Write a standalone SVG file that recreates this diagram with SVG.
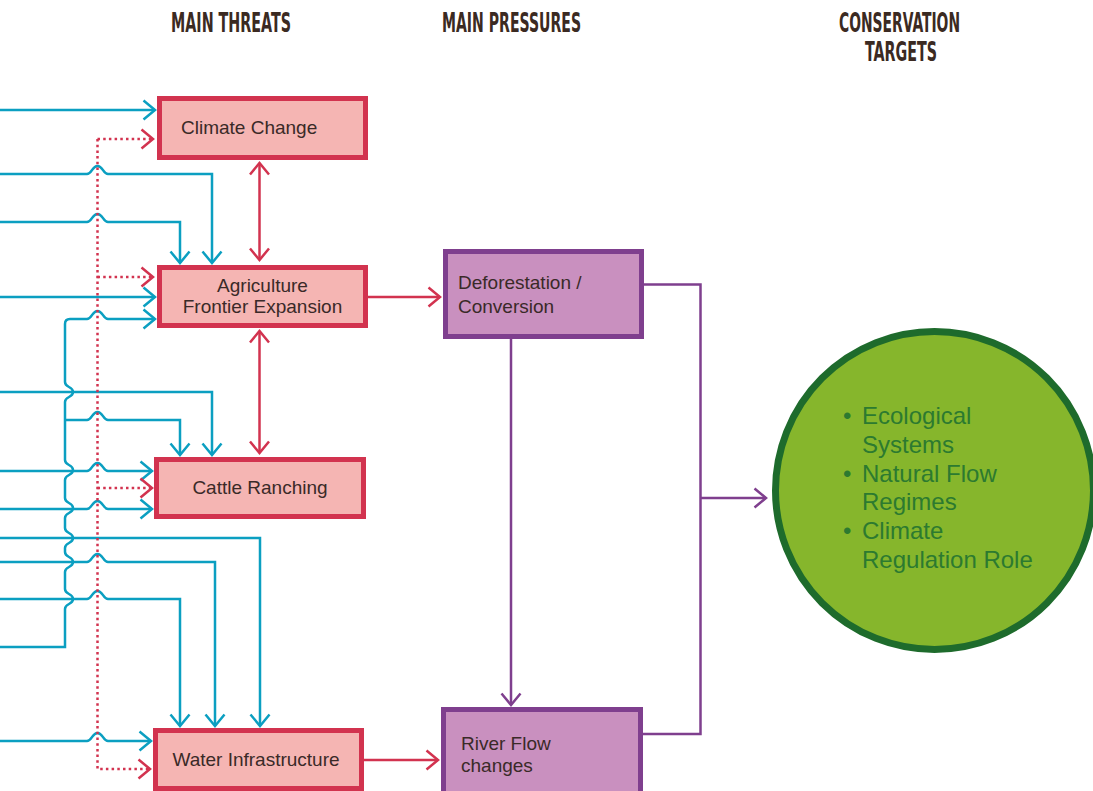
<svg xmlns="http://www.w3.org/2000/svg" width="1093" height="791" viewBox="0 0 1093 791">
<style>
.hdr{font-family:"DejaVu Sans Condensed","Liberation Sans Narrow","DejaVu Sans",sans-serif;font-weight:bold;font-size:26px;fill:#3b2a22}
.threat rect{fill:#f5b5b3;stroke:#d2334f;stroke-width:5}
.press rect{fill:#c990bf;stroke:#7f3f8e;stroke-width:5}
.lbl{font-family:"Liberation Sans",Arial,sans-serif;font-size:19px;fill:#3a2a28}
.tgt{font-family:"Liberation Sans",Arial,sans-serif;font-size:24px;fill:#2c7a30}
.blue{fill:none;stroke:#0b9fc1;stroke-width:2.5}
.red{fill:none;stroke:#d2334f;stroke-width:2.5}
.dot{fill:none;stroke:#d2334f;stroke-width:2.5;stroke-dasharray:2.5 3.2}
.purple{fill:none;stroke:#7f3f8e;stroke-width:2.5}
</style>
<defs>
<marker id="ab" markerUnits="userSpaceOnUse" markerWidth="16" markerHeight="24" refX="13" refY="11" orient="auto-start-reverse"><path d="M1.5,1.5 L13,11 L1.5,20.5" fill="none" stroke="#0b9fc1" stroke-width="2.5"/></marker>
<marker id="ar" markerUnits="userSpaceOnUse" markerWidth="16" markerHeight="24" refX="13" refY="11" orient="auto-start-reverse"><path d="M1.5,1.5 L13,11 L1.5,20.5" fill="none" stroke="#d2334f" stroke-width="2.5"/></marker>
<marker id="ap" markerUnits="userSpaceOnUse" markerWidth="16" markerHeight="24" refX="13" refY="11" orient="auto-start-reverse"><path d="M1.5,1.5 L13,11 L1.5,20.5" fill="none" stroke="#7f3f8e" stroke-width="2.5"/></marker>
</defs>
<rect width="1093" height="791" fill="#ffffff"/>
<g id="headers">
<text class="hdr" x="171" y="32" textLength="120" lengthAdjust="spacingAndGlyphs">MAIN THREATS</text>
<text class="hdr" x="442" y="32" textLength="139" lengthAdjust="spacingAndGlyphs">MAIN PRESSURES</text>
<text class="hdr" x="839" y="32" textLength="121" lengthAdjust="spacingAndGlyphs">CONSERVATION</text>
<text class="hdr" x="865" y="61" textLength="72" lengthAdjust="spacingAndGlyphs">TARGETS</text>
</g>
<g id="connectors">
<path class="blue" marker-end="url(#ab)" d="M0,110 H155"/>
<path class="blue" marker-end="url(#ab)" d="M0,174 H87 C92,174 92,166 97.5,166 C103,166 103,174 108,174 H212 V263"/>
<path class="blue" marker-end="url(#ab)" d="M0,222 H87 C92,222 92,214 97.5,214 C103,214 103,222 108,222 H180 V263"/>
<path class="blue" marker-end="url(#ab)" d="M0,297 H155"/>
<path class="blue" marker-end="url(#ab)" d="M0,647 H65 V609 C65,603 73,605 73,599 C73,593 65,595 65,589 V572 C65,566 73,568 73,562 C73,556 65,558 65,552 V548 C65,542 73,544 73,538 C73,532 65,534 65,528 V518 C65,512 73,514 73,508 C73,502 65,504 65,498 V480 C65,474 73,476 73,470 C73,464 65,466 65,460 V402 C65,396 73,398 73,392 C73,386 65,388 65,382 V324 Q65,319 70,319 H87 C92,319 92,311 97.5,311 C103,311 103,319 108,319 H155"/>
<path class="blue" marker-end="url(#ab)" d="M65,420 H87 C92,420 92,412 97.5,412 C103,412 103,420 108,420 H180 V455"/>
<path class="blue" marker-end="url(#ab)" d="M0,392 H212 V455"/>
<path class="blue" marker-end="url(#ab)" d="M0,471 H87 C92,471 92,463 97.5,463 C103,463 103,471 108,471 H152"/>
<path class="blue" marker-end="url(#ab)" d="M0,509 H87 C92,509 92,501 97.5,501 C103,501 103,509 108,509 H152"/>
<path class="blue" marker-end="url(#ab)" d="M0,538 H260 V726"/>
<path class="blue" marker-end="url(#ab)" d="M0,562 H87 C92,562 92,554 97.5,554 C103,554 103,562 108,562 H215 V726"/>
<path class="blue" marker-end="url(#ab)" d="M0,599 H87 C92,599 92,591 97.5,591 C103,591 103,599 108,599 H180 V726"/>
<path class="blue" marker-end="url(#ab)" d="M0,741 H87 C92,741 92,733 97.5,733 C103,733 103,741 108,741 H151"/>
<path class="dot" marker-end="url(#ar)" d="M97.5,139 H153"/>
<path class="dot" marker-end="url(#ar)" d="M97.5,139 V769 H150"/>
<path class="dot" marker-end="url(#ar)" d="M97.5,277 H153"/>
<path class="dot" marker-end="url(#ar)" d="M97.5,488 H152"/>
<path class="red" marker-start="url(#ar)" marker-end="url(#ar)" d="M259.5,163 V260"/>
<path class="red" marker-start="url(#ar)" marker-end="url(#ar)" d="M259.5,331 V453"/>
<path class="red" marker-end="url(#ar)" d="M368,297 H440"/>
<path class="red" marker-end="url(#ar)" d="M364,760 H438"/>
<path class="purple" marker-end="url(#ap)" d="M511,339 V705"/>
<path class="purple" d="M644,284.5 H700.5 V734 H643"/>
<path class="purple" marker-end="url(#ap)" d="M700.5,498 H766"/>
</g>
<g id="climate" class="threat">
<rect x="159.5" y="98.5" width="206" height="59"/>
<text class="lbl" x="181" y="134">Climate Change</text>
</g>
<g id="agriculture" class="threat">
<rect x="159.5" y="267.5" width="206" height="58"/>
<text class="lbl" x="262.5" y="292" text-anchor="middle">Agriculture</text>
<text class="lbl" x="262.5" y="313" text-anchor="middle">Frontier Expansion</text>
</g>
<g id="cattle" class="threat">
<rect x="156.5" y="459.5" width="207" height="57"/>
<text class="lbl" x="260" y="494" text-anchor="middle">Cattle Ranching</text>
</g>
<g id="water" class="threat">
<rect x="155.5" y="730.5" width="206" height="58"/>
<text class="lbl" x="256" y="766" text-anchor="middle">Water Infrastructure</text>
</g>
<g id="deforestation" class="press">
<rect x="445.5" y="251.5" width="196" height="85"/>
<text class="lbl" x="458" y="289">Deforestation /</text>
<text class="lbl" x="458" y="313">Conversion</text>
</g>
<g id="riverflow" class="press">
<rect x="443.5" y="709.5" width="197" height="95"/>
<text class="lbl" x="461" y="750">River Flow</text>
<text class="lbl" x="461" y="772">changes</text>
</g>
<g id="targets">
<circle cx="934.5" cy="490.5" r="159" fill="#86b62c" stroke="#1e6b2c" stroke-width="7"/>
<text class="tgt" x="843" y="424">•</text>
<text class="tgt" x="862" y="424">Ecological</text>
<text class="tgt" x="862" y="453">Systems</text>
<text class="tgt" x="843" y="482">•</text>
<text class="tgt" x="862" y="482">Natural Flow</text>
<text class="tgt" x="862" y="510">Regimes</text>
<text class="tgt" x="843" y="539">•</text>
<text class="tgt" x="862" y="539">Climate</text>
<text class="tgt" x="862" y="568">Regulation Role</text>
</g>
</svg>
